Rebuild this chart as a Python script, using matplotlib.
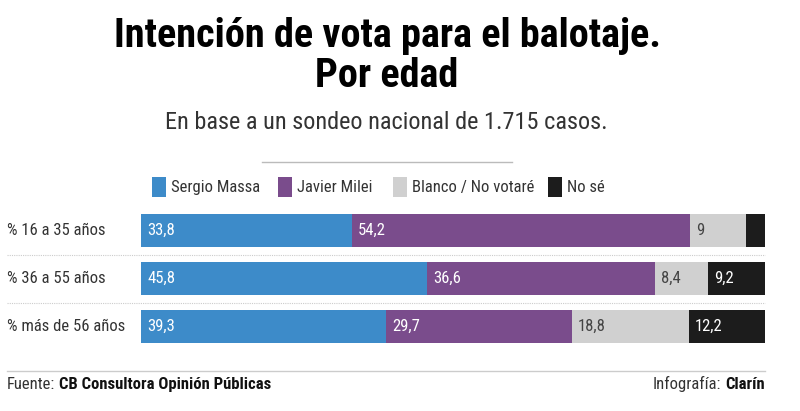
import matplotlib
matplotlib.use("Agg")
import matplotlib.pyplot as plt
from matplotlib import font_manager
from matplotlib.lines import Line2D
from matplotlib.transforms import blended_transform_factory
import numpy as np

### data
grupos = ['% 16 a 35 años', '% 36 a 55 años', '% más de 56 años']
massa = [33.8, 45.8, 39.3]
milei = [54.2, 36.6, 29.7]
blanco = [9.0, 8.4, 18.8]
nose = [3.0, 9.2, 12.2]
series = ['Sergio Massa', 'Javier Milei', 'Blanco / No votaré', 'No sé']
colores = ['#3d8bc9', '#7a4c8c', '#d0d0d0', '#1c1c1c']
texto_color = ['white', 'white', '#444444', 'white']

### look for a condensed face
fam, stretch = 'DejaVu Sans', 'normal'
fonts = font_manager.fontManager.ttflist
names = set(f.name for f in fonts)
for cand in ['Roboto Condensed', 'Liberation Sans Narrow', 'Open Sans Condensed', 'Noto Sans Display']:
    if cand in names:
        fam = cand
        break
else:
    for f in fonts:
        if f.stretch not in ('normal', 500) and f.name in ('DejaVu Sans', 'Noto Sans', 'Open Sans', 'Roboto'):
            fam, stretch = f.name, f.stretch
            break
plt.rcParams['font.family'] = [fam, 'DejaVu Sans']
plt.rcParams['font.stretch'] = stretch

W, H = 800, 411
fs = 12
fig = plt.figure(figsize=(8, 4.11), dpi=100)

def fy(py):
    return 1 - py / H

### titles
fig.text(387 / W, fy(36), 'Intención de vota para el balotaje.', ha='center', va='center',
         fontsize=29, fontweight='black', color='black')
fig.text(387 / W, fy(76), 'Por edad', ha='center', va='center',
         fontsize=29, fontweight='black', color='black')
fig.text(386 / W, fy(122), 'En base a un sondeo nacional de 1.715 casos.', ha='center', va='center',
         fontsize=17.5, color='#333333')
fig.add_artist(Line2D([262 / W, 512 / W], [fy(162), fy(162)], transform=fig.transFigure,
                      color='#bbbbbb', lw=1))

### legend
leg_x = [152, 278, 393, 548]
for x, s, c in zip(leg_x, series, colores):
    fig.add_artist(plt.Rectangle((x / W, fy(197)), 14 / W, 20 / H, transform=fig.transFigure,
                                 color=c, lw=0))
    fig.text((x + 19) / W, fy(187), s, ha='left', va='center', fontsize=fs, color='#333333')

### bars
ax = fig.add_axes([141 / W, fy(350.5), 624 / W, 144 / H])
y = np.arange(len(grupos))
datos = [massa, milei, blanco, nose]
left = np.zeros(len(grupos))
for vals, c, tc in zip(datos, colores, texto_color):
    ax.barh(y, vals, left=left, height=0.69, color=c, lw=0)
    for yi, (l, v) in enumerate(zip(left, vals)):
        if v >= 5:
            txt = ('%g' % v).replace('.', ',')
            ax.text(l + 1, yi, txt, ha='left', va='center', fontsize=fs, color=tc)
    left = left + np.array(vals)
ax.set_xlim(0, 100)
ax.set_ylim(2.5, -0.5)
ax.axis('off')

tr = blended_transform_factory(fig.transFigure, ax.transData)
for yi, g in enumerate(grupos):
    fig.text(7 / W, yi, g, transform=tr, ha='left', va='center', fontsize=fs, color='#333333')
for b in [0.5, 1.5]:
    fig.add_artist(Line2D([7 / W, 765 / W], [b, b], transform=tr, color='#cccccc',
                          lw=0.8, linestyle=(0, (1, 1))))

### footer
fig.add_artist(Line2D([7 / W, 765 / W], [fy(371), fy(371)], transform=fig.transFigure,
                      color='#cccccc', lw=1))
r = fig.canvas.get_renderer()
t1 = fig.text(7 / W, fy(384), 'Fuente:', ha='left', va='center', fontsize=fs, color='#333333')
x1 = t1.get_window_extent(r).x1
fig.text(x1 / W + 4 / W, fy(384), 'CB Consultora Opinión Públicas', ha='left', va='center',
         fontsize=fs, fontweight='bold', color='#111111')
t2 = fig.text(765 / W, fy(384), 'Clarín', ha='right', va='center', fontsize=fs,
              fontweight='bold', color='#111111')
x2 = t2.get_window_extent(r).x0
fig.text(x2 / W - 4 / W, fy(384), 'Infografía:', ha='right', va='center', fontsize=fs, color='#333333')

fig.savefig('out.png', dpi=100)
